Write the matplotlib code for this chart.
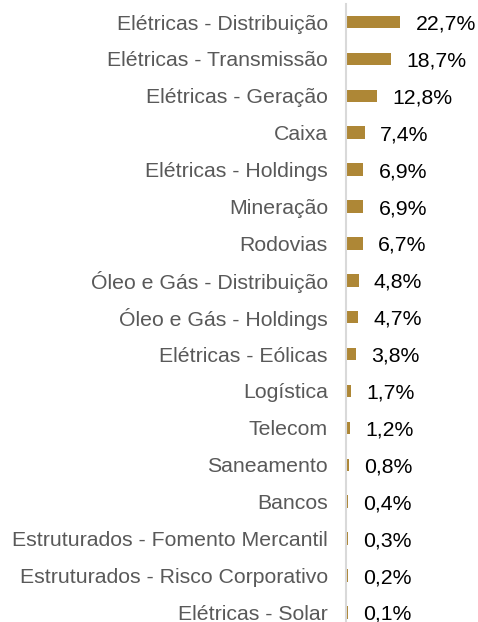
import matplotlib.pyplot as plt

categories = [
    "Elétricas - Distribuição",
    "Elétricas - Transmissão",
    "Elétricas - Geração",
    "Caixa",
    "Elétricas - Holdings",
    "Mineração",
    "Rodovias",
    "Óleo e Gás - Distribuição",
    "Óleo e Gás - Holdings",
    "Elétricas - Eólicas",
    "Logística",
    "Telecom",
    "Saneamento",
    "Bancos",
    "Estruturados - Fomento Mercantil",
    "Estruturados - Risco Corporativo",
    "Elétricas - Solar",
]
values = [22.7, 18.7, 12.8, 7.4, 6.9, 6.9, 6.7, 4.8, 4.7, 3.8,
          1.7, 1.2, 0.8, 0.4, 0.3, 0.2, 0.1]

plt.rcParams['font.family'] = ['Liberation Sans', 'DejaVu Sans']

W, H = 478, 622
fig = plt.figure(figsize=(W / 100, H / 100), dpi=100)
# axes placed in pixel terms: left at x=346, rows 36.9 px apart
row = 36.9
top_px = 22 - row / 2
bot_px = top_px + row * len(categories)
ax = fig.add_axes([346 / W, 1 - bot_px / H, (W - 346) / W, (bot_px - top_px) / H])

y = list(range(len(categories)))
start = 0.6  # bars begin just right of the axis line
ax.barh(y, values, height=0.34, color='#AE8736', left=start)
ax.set_ylim(len(categories) - 0.5, -0.5)
ax.set_xlim(0, 56.6)

for yi, v in zip(y, values):
    ax.annotate(f"{v:.1f}%".replace('.', ','), (v + start, yi),
                xytext=(11, -1.5), textcoords='offset points',
                va='center', ha='left', fontsize=15.3, color='black')

ax.set_yticks(y)
ax.set_yticklabels(categories, fontsize=15.3, color='#595959')
ax.tick_params(axis='y', length=0, pad=13)
ax.set_xticks([])
for s in ('top', 'right', 'bottom'):
    ax.spines[s].set_visible(False)
ax.spines['left'].set_color('#d9d9d9')
ax.spines['left'].set_linewidth(1.5)
ax.spines['left'].set_zorder(3)
ax.patch.set_visible(False)

fig.savefig('out.png', dpi=100)
